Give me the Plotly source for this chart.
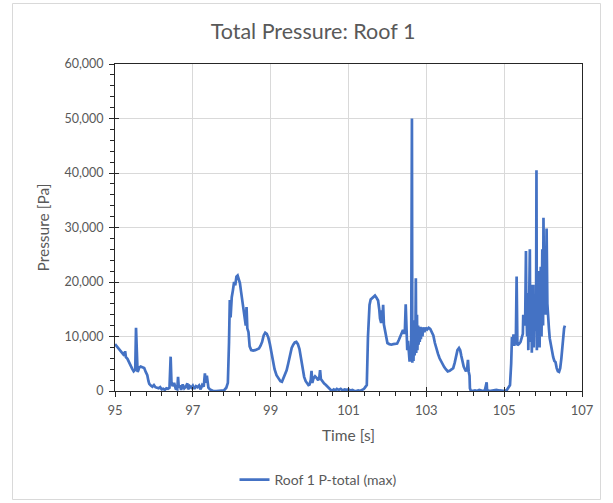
import plotly.graph_objects as go

# Roof 1 total pressure history (max over the roof panel)
time_s = [
    95.00, 95.05, 95.10, 95.15, 95.20, 95.24, 95.26, 95.28, 95.32, 95.36,
    95.40, 95.44, 95.48, 95.52, 95.54, 95.56, 95.58, 95.60, 95.62, 95.66,
    95.70, 95.75, 95.79, 95.83, 95.86, 95.88, 95.92, 95.96, 96.00, 96.04,
    96.08, 96.12, 96.16, 96.20, 96.24, 96.28, 96.32, 96.36, 96.40, 96.43,
    96.45, 96.48, 96.52, 96.56, 96.60, 96.62, 96.64, 96.66, 96.70, 96.74,
    96.78, 96.82, 96.86, 96.88, 96.92, 96.96, 97.00, 97.04, 97.08, 97.12,
    97.16, 97.20, 97.24, 97.28, 97.31, 97.33, 97.36, 97.40, 97.44, 97.48,
    97.52, 97.60, 97.70, 97.80, 97.86, 97.90, 97.93, 97.95, 97.97, 98.00,
    98.03, 98.06, 98.09, 98.12, 98.15, 98.18, 98.21, 98.24, 98.27, 98.30,
    98.33, 98.36, 98.38, 98.40, 98.43, 98.46, 98.50, 98.55, 98.60, 98.65,
    98.70, 98.74, 98.78, 98.82, 98.86, 98.90, 98.94, 98.98, 99.02, 99.06,
    99.10, 99.15, 99.20, 99.25, 99.29, 99.33, 99.37, 99.41, 99.45, 99.50,
    99.54, 99.58, 99.62, 99.66, 99.70, 99.74, 99.78, 99.82, 99.86, 99.90,
    99.94, 99.97, 100.00, 100.03, 100.05, 100.07, 100.10, 100.14, 100.18, 100.22,
    100.25, 100.27, 100.29, 100.33, 100.37, 100.42, 100.47, 100.52, 100.57, 100.62,
    100.66, 100.70, 100.75, 100.80, 100.85, 100.90, 100.95, 101.00, 101.05, 101.10,
    101.15, 101.20, 101.25, 101.30, 101.36, 101.40, 101.44, 101.47, 101.50, 101.52,
    101.54, 101.57, 101.60, 101.64, 101.68, 101.72, 101.76, 101.79, 101.81, 101.84,
    101.86, 101.87, 101.89, 101.91, 101.94, 101.97, 102.00, 102.05, 102.10, 102.15,
    102.20, 102.25, 102.29, 102.33, 102.37, 102.40, 102.43, 102.45, 102.47, 102.49,
    102.51, 102.53, 102.55, 102.57, 102.59, 102.61, 102.63, 102.64, 102.66, 102.67,
    102.69, 102.70, 102.72, 102.73, 102.74, 102.76, 102.77, 102.79, 102.80, 102.82,
    102.83, 102.85, 102.86, 102.88, 102.90, 102.92, 102.95, 102.98, 103.02, 103.06,
    103.10, 103.14, 103.18, 103.22, 103.26, 103.30, 103.34, 103.38, 103.42, 103.46,
    103.50, 103.55, 103.60, 103.65, 103.69, 103.73, 103.77, 103.80, 103.84, 103.87,
    103.90, 103.93, 103.96, 103.99, 104.02, 104.05, 104.07, 104.09, 104.11, 104.12,
    104.14, 104.18, 104.25, 104.30, 104.36, 104.42, 104.50, 104.55, 104.56, 104.62,
    104.70, 104.80, 104.88, 104.96, 105.02, 105.07, 105.12, 105.15, 105.18, 105.20,
    105.22, 105.24, 105.26, 105.28, 105.30, 105.32, 105.34, 105.38, 105.42, 105.45,
    105.48, 105.49, 105.52, 105.54, 105.56, 105.57, 105.59, 105.61, 105.62, 105.64,
    105.66, 105.67, 105.69, 105.70, 105.71, 105.73, 105.75, 105.76, 105.78, 105.80,
    105.82, 105.83, 105.84, 105.86, 105.88, 105.90, 105.91, 105.93, 105.94, 105.96,
    105.98, 106.00, 106.01, 106.03, 106.05, 106.07, 106.09, 106.11, 106.13, 106.15,
    106.17, 106.20, 106.23, 106.26, 106.29, 106.32, 106.35, 106.38, 106.41, 106.44,
    106.47, 106.50, 106.52, 106.54, 106.56,
]

pressure_pa = [
    8600, 8200, 7800, 7400, 7000, 6500, 7300, 6200, 5900, 5200,
    4700, 4100, 3600, 3900, 11600, 4200, 3500, 3800, 4300, 4500,
    4400, 4200, 3500, 2900, 1800, 1300, 1000, 800, 1100, 700,
    600, 500, 700, 300, 400, 200, 500, 400, 600, 6300,
    1700, 900, 1500, 400, 300, 2600, 600, 1000, 200, 1200,
    500, 800, 1400, 300, 900, 600, 1000, 400, 900, 700,
    1000, 300, 1100, 800, 3250, 1500, 2800, 600, 300, 100,
    0, 0, 0, 100, 600, 1500, 9000, 16700, 13500, 17200,
    18500, 20000, 19400, 21000, 21200, 20500, 19800, 18200, 16500, 15200,
    13000, 12000, 15400, 11500, 10800, 8200, 7500, 7400, 7500, 7700,
    7800, 8300, 9000, 10200, 10700, 10500, 9800, 8600, 7000, 5500,
    4000, 2900, 2200, 1800, 1700, 2300, 3000, 3800, 5000, 6800,
    7900, 8500, 8900, 9000, 8600, 7700, 5800, 4000, 2600, 1800,
    1300, 1100, 1200, 2000, 3700, 1500, 2300, 2700, 2400, 2000,
    2500, 3850, 2200, 1700, 1400, 1100, 700, 300, 0, 300,
    100, 400, 200, 400, 100, 300, 200, 300, 100, 200,
    0, 0, 100, 0, 200, 400, 800, 1100, 9900, 12500,
    15800, 16800, 17000, 17300, 17500, 17100, 16600, 15000, 13300, 12500,
    14800, 13000, 15800, 12200, 10900, 9600, 8800, 8600, 8500, 8600,
    8600, 8700, 9300, 10000, 10400, 11200, 10500, 11400, 15900, 9000,
    7500, 9200, 6200, 5400, 8000, 6000, 50000, 5200, 12500, 5500,
    13000, 6500, 11000, 20700, 7000, 14000, 7500, 12000, 8500, 11500,
    9000, 11800, 9500, 11600, 10000, 11700, 10800, 11600, 11300, 11600,
    11400, 10800, 10200, 8800, 7600, 6800, 6000, 5400, 4900, 4400,
    4000, 3600, 3700, 3900, 4200, 5200, 6500, 7500, 7900, 7500,
    6400, 5200, 4500, 4000, 3600, 4200, 5700, 3500, 2800, 500,
    100, 0, 100, 0, 200, 100, 0, 1600, 200, 0,
    100, 200, 100, 0, 0, 200, 800, 1100, 5000, 9900,
    8500, 10400, 8300, 9000, 9000, 21000, 8400, 8600, 9000, 9800,
    10500, 14000, 12000, 13000, 25700, 15000, 10000, 18000, 7500, 15000,
    26000, 9000, 12000, 19500, 7000, 15000, 19500, 8000, 16000, 11000,
    14000, 40500, 7500, 19000, 12000, 22000, 8000, 18000, 22800, 10000,
    26000, 12000, 31800, 15000, 23000, 14000, 29800, 16000, 12500, 11500,
    9700, 8400, 7200, 6200, 5500, 5300, 4200, 3600, 3500, 4200,
    6000, 8500, 10900, 11500, 12000,
]

x_ticks = [95, 97, 99, 101, 103, 105, 107]
y_ticks = [0, 10000, 20000, 30000, 40000, 50000, 60000]

FONT = "Lato, 'Open Sans', sans-serif"
TEXT = "#595959"
GRID = "#D9D9D9"
AXIS = "#262626"

# plot-area pixel box inside the 613x503 canvas
W, H = 613, 503
L, R, T, B = 115, 582, 64, 391


def px_to_paper_x(px):
    return (px - L) / (R - L)


def px_to_paper_y(py):
    return (B - py) / (B - T)


fig = go.Figure()
fig.add_trace(go.Scatter(
    x=time_s, y=pressure_pa, mode="lines",
    name="Roof 1 P-total (max)",
    line=dict(color="#4472C4", width=2.7),
))
# empty trace so the overlay axes (inner half of the cross ticks) get drawn
fig.add_trace(go.Scatter(x=[], y=[], xaxis="x2", yaxis="y2",
                         showlegend=False, hoverinfo="skip"))

fig.update_layout(
    width=W, height=H,
    margin=dict(l=L, r=W - R, t=T, b=H - B, autoexpand=False),
    paper_bgcolor="white", plot_bgcolor="white",
    title=dict(text="Total Pressure: Roof 1", x=313 / W, xref="container",
               xanchor="center", y=1 - 31 / H, yref="container", yanchor="middle",
               font=dict(family=FONT, size=21.5, color=TEXT)),
    font=dict(family=FONT, size=12, color=TEXT),
    xaxis=dict(
        range=[95, 107], tickvals=x_ticks, ticktext=[str(v) for v in x_ticks],
        showgrid=True, gridcolor=GRID, gridwidth=1,
        showline=True, linecolor=AXIS, linewidth=1, mirror=True,
        ticks="outside", ticklen=5, tickcolor=AXIS, tickwidth=1,
        minor=dict(dtick=0.4, tick0=95, ticks="outside", ticklen=4,
                   tickcolor=AXIS, showgrid=False),
        tickfont=dict(size=13, color=TEXT), ticklabelstandoff=2,
        title=dict(text="Time [s]", font=dict(size=15.5, color=TEXT), standoff=13),
        zeroline=False, fixedrange=True, automargin=False,
    ),
    yaxis=dict(
        range=[0, 60000], tickvals=y_ticks, tickformat=",d",
        showgrid=True, gridcolor=GRID, gridwidth=1,
        showline=True, linecolor=AXIS, linewidth=1, mirror=True,
        ticks="outside", ticklen=5, tickcolor=AXIS, tickwidth=1,
        minor=dict(dtick=2000, tick0=0, ticks="outside", ticklen=4,
                   tickcolor=AXIS, showgrid=False),
        tickfont=dict(size=12.5, color=TEXT), ticklabelstandoff=3,
        title=dict(text="Pressure [Pa]", font=dict(size=15.5, color=TEXT), standoff=10),
        zeroline=False, fixedrange=True, automargin=False,
    ),
    xaxis2=dict(range=[95, 107], overlaying="x", anchor="y", side="bottom",
                tickvals=x_ticks, ticks="inside", ticklen=4, tickcolor=AXIS,
                showticklabels=False, showgrid=False, showline=False,
                zeroline=False),
    yaxis2=dict(range=[0, 60000], overlaying="y", anchor="x", side="left",
                tickvals=y_ticks, ticks="inside", ticklen=4, tickcolor=AXIS,
                showticklabels=False, showgrid=False, showline=False,
                zeroline=False),
    legend=dict(orientation="h", x=px_to_paper_x(318), xanchor="center",
                y=px_to_paper_y(480), yanchor="middle",
                font=dict(size=14, color=TEXT), bgcolor="rgba(0,0,0,0)"),
    showlegend=True,
    shapes=[dict(type="rect", xref="paper", yref="paper",
                 x0=px_to_paper_x(12.5), x1=px_to_paper_x(600.5),
                 y0=px_to_paper_y(499.5), y1=px_to_paper_y(3.5),
                 line=dict(color=GRID, width=1), fillcolor="rgba(0,0,0,0)",
                 layer="below")],
)

fig.write_html("out.html")
